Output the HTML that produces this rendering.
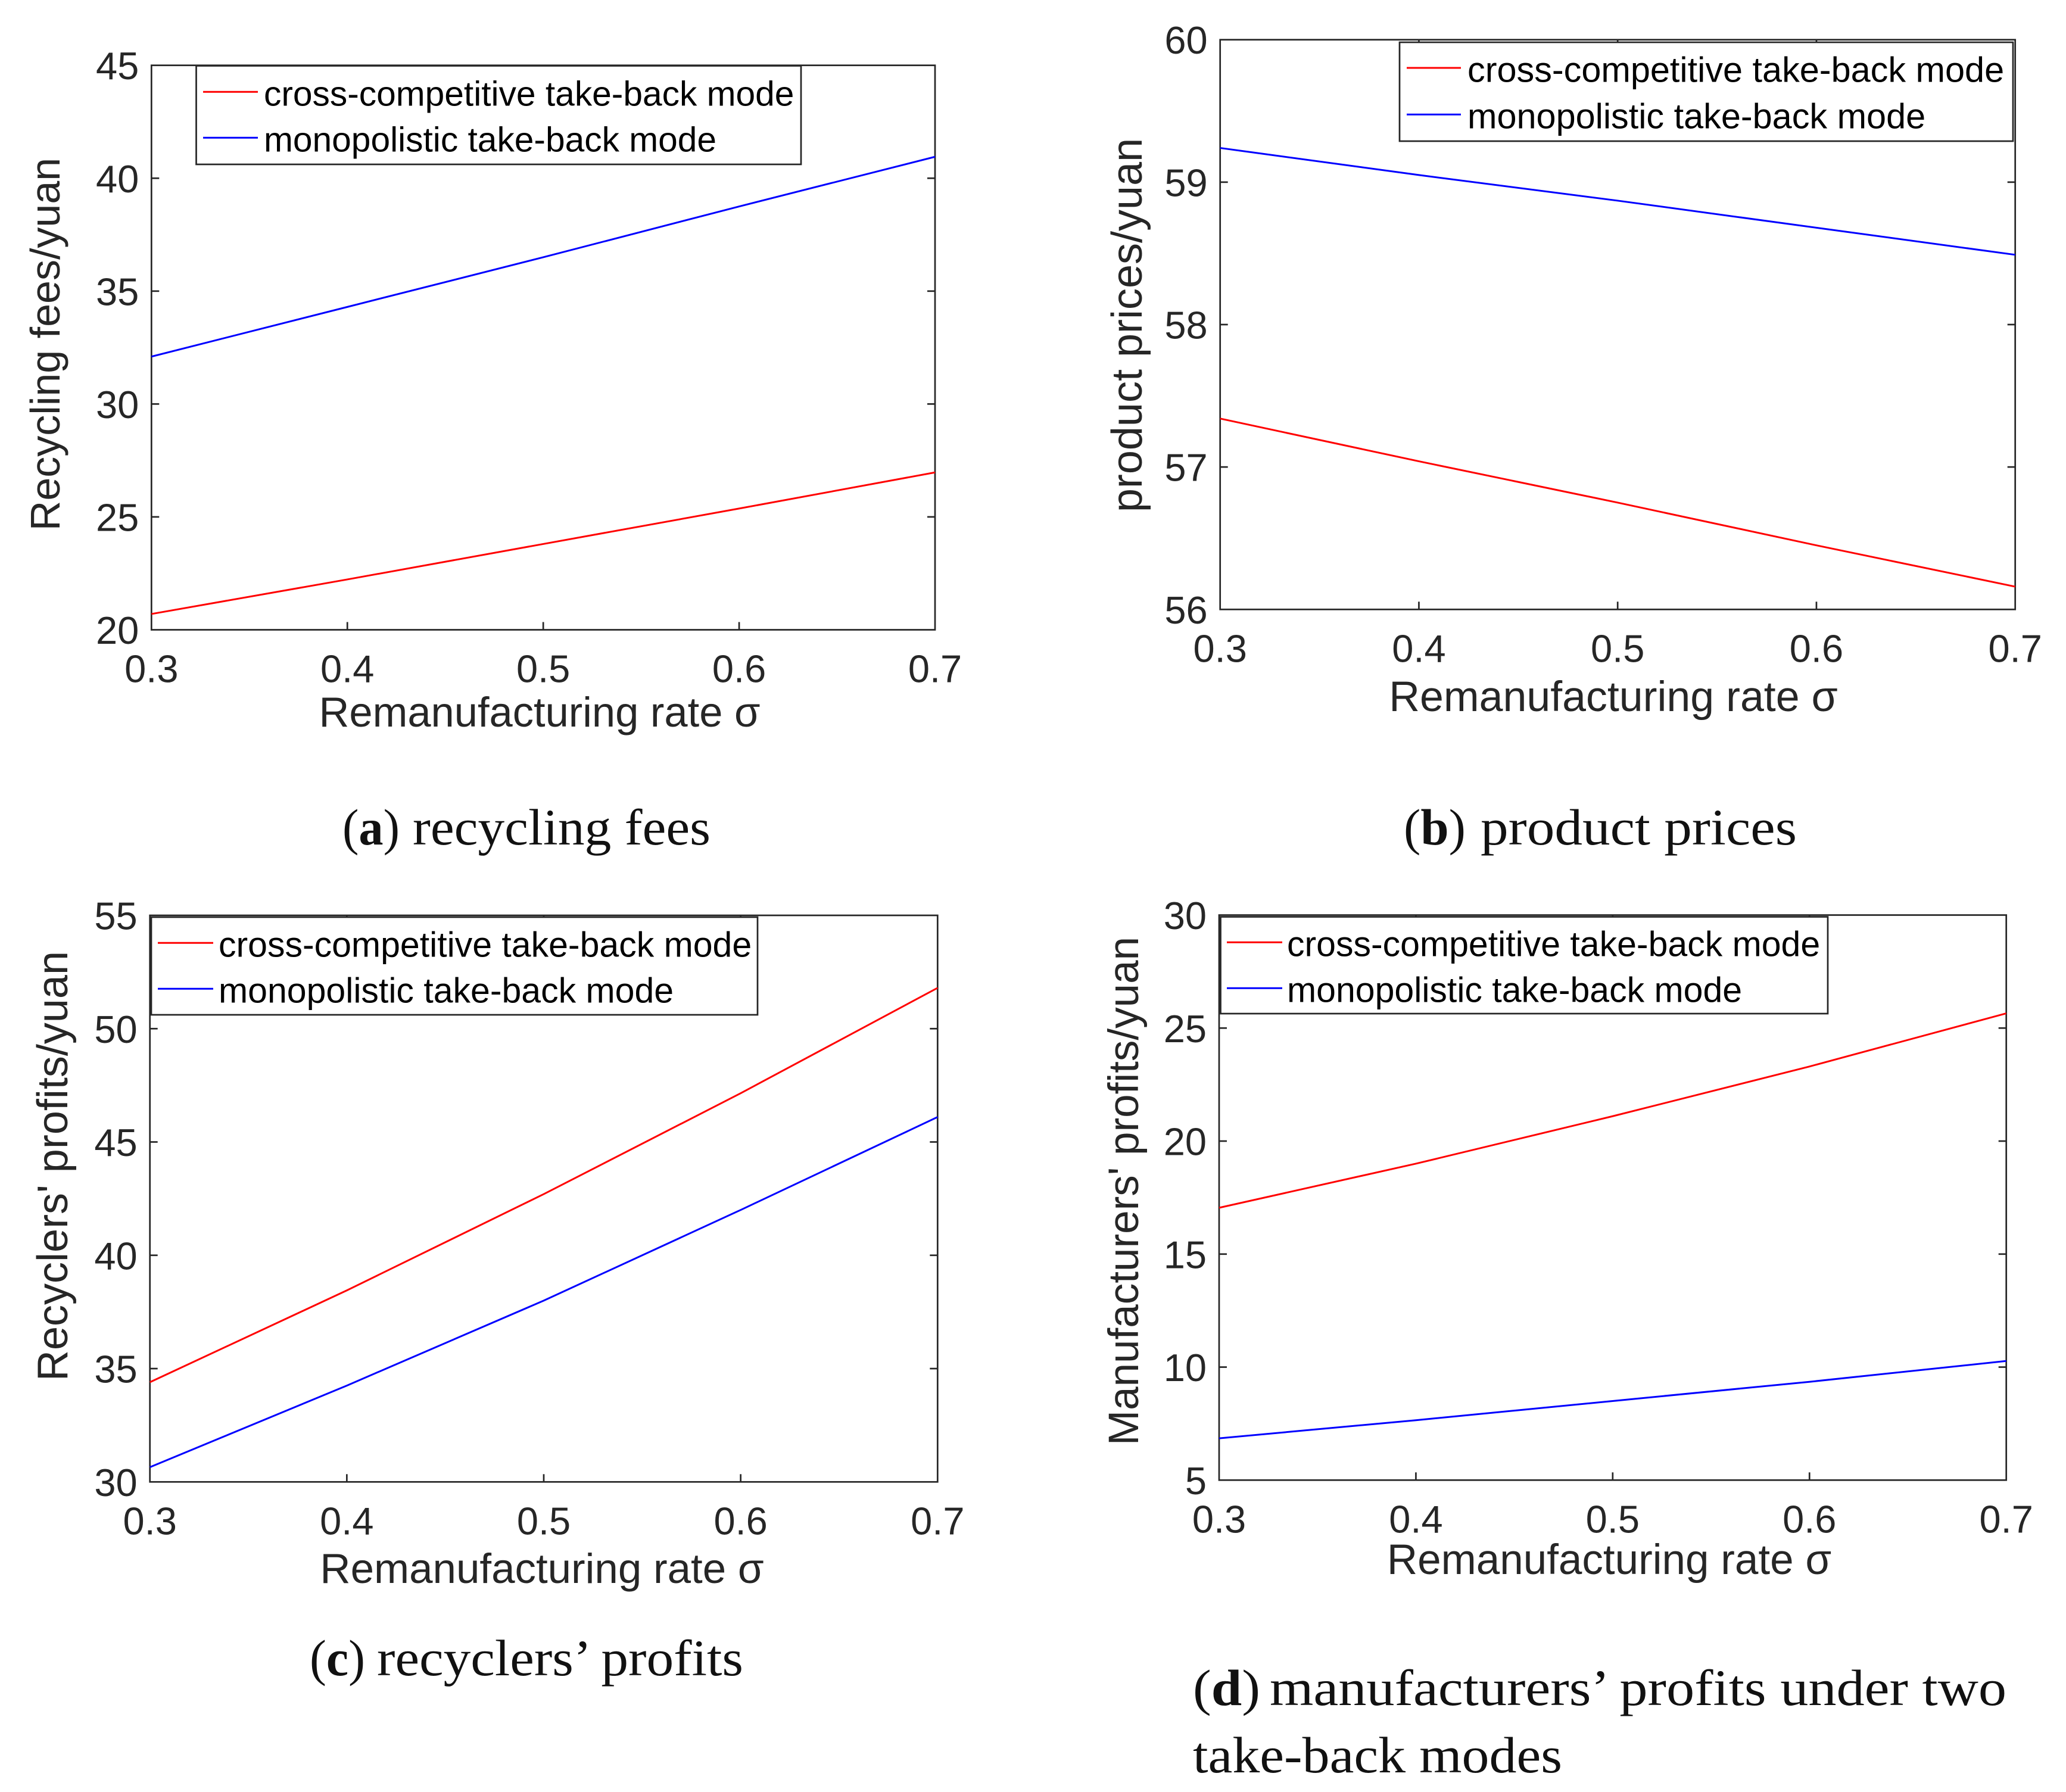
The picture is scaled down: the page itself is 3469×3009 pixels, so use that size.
<!DOCTYPE html>
<html lang="en">
<head>
<meta charset="utf-8">
<title>Take-back mode comparison charts</title>
<style>
html,body{margin:0;padding:0;background:#fff;}
svg{display:block;}
.sans{font-family:"Liberation Sans",Arial,sans-serif;}
.serif{font-family:"Liberation Serif","Times New Roman",serif;}
.tick{font-size:65px;fill:#262626;}
.title{font-size:70px;fill:#262626;}
.leg{font-size:58.7px;fill:#000;}
.cap{font-size:86px;fill:#111;}
.frame{fill:none;stroke:#262626;stroke-width:2.7;}
.legbox{fill:#fff;stroke:#262626;stroke-width:2.7;}
</style>
</head>
<body>
<svg id="figure" xmlns="http://www.w3.org/2000/svg" width="3469" height="3009" viewBox="0 0 3469 3009">
  <rect x="0" y="0" width="3469" height="3009" fill="#fff"/>

  <g id="panel-a" class="sans">
    <text class="title" text-anchor="middle" transform="translate(100 578) rotate(-90)">Recycling fees/yuan</text>
    <text class="title" text-anchor="middle" x="906" y="1220" style="font-size:70.5px">Remanufacturing rate σ</text>
  </g>
  <g id="panel-b" class="sans">
    <text class="title" text-anchor="middle" transform="translate(1917 546) rotate(-90)" style="font-size:72px">product prices/yuan</text>
    <text class="title" text-anchor="middle" x="2709" y="1194" style="font-size:71.7px">Remanufacturing rate σ</text>
  </g>
  <g id="panel-c" class="sans">
    <text class="title" text-anchor="middle" transform="translate(113 1958) rotate(-90)" style="font-size:72px">Recyclers' profits/yuan</text>
    <text class="title" text-anchor="middle" x="910" y="2658" style="font-size:70.9px">Remanufacturing rate σ</text>
  </g>
  <g id="panel-d" class="sans">
    <text class="title" text-anchor="middle" transform="translate(1911 2000) rotate(-90)" style="font-size:71px">Manufacturers' profits/yuan</text>
    <text class="title" text-anchor="middle" x="2702" y="2643" style="font-size:71px">Remanufacturing rate σ</text>
  </g>

  <g id="legends" class="sans">
    <g>
      <rect class="legbox" x="329.5" y="110.5" width="1015.5" height="165.5"/>
      <line x1="341" x2="433" y1="154.3" y2="154.3" stroke="#ff0000" stroke-width="3"/>
      <line x1="341" x2="433" y1="231.3" y2="231.3" stroke="#0000ff" stroke-width="3"/>
      <text class="leg" x="443" y="177.5">cross-competitive take-back mode</text>
      <text class="leg" x="443" y="254.5">monopolistic take-back mode</text>
    </g>
    <g>
      <rect class="legbox" x="2350" y="71" width="1030" height="166"/>
      <line x1="2362" x2="2453" y1="114" y2="114" stroke="#ff0000" stroke-width="3"/>
      <line x1="2362" x2="2453" y1="192.3" y2="192.3" stroke="#0000ff" stroke-width="3"/>
      <text class="leg" x="2464" y="137.5" style="font-size:59.4px">cross-competitive take-back mode</text>
      <text class="leg" x="2464" y="215.5" style="font-size:59.4px">monopolistic take-back mode</text>
    </g>
    <g>
      <rect class="legbox" x="254" y="1540" width="1018" height="164"/>
      <line x1="265" x2="358" y1="1583.3" y2="1583.3" stroke="#ff0000" stroke-width="3"/>
      <line x1="265" x2="358" y1="1660.3" y2="1660.3" stroke="#0000ff" stroke-width="3"/>
      <text class="leg" x="367" y="1606.5" style="font-size:59px">cross-competitive take-back mode</text>
      <text class="leg" x="367" y="1683.5" style="font-size:59px">monopolistic take-back mode</text>
    </g>
    <g>
      <rect class="legbox" x="2049.5" y="1539.5" width="1019.5" height="162.5"/>
      <line x1="2060" x2="2153" y1="1582.3" y2="1582.3" stroke="#ff0000" stroke-width="3"/>
      <line x1="2060" x2="2153" y1="1659.3" y2="1659.3" stroke="#0000ff" stroke-width="3"/>
      <text class="leg" x="2161" y="1605.5" style="font-size:59px">cross-competitive take-back mode</text>
      <text class="leg" x="2161" y="1682.5" style="font-size:59px">monopolistic take-back mode</text>
    </g>
  </g>

  <g id="captions" class="serif">
    <text class="cap" x="575" y="1418" textLength="96" lengthAdjust="spacingAndGlyphs">(<tspan font-weight="bold">a</tspan>)</text>
    <text class="cap" x="693" y="1418" textLength="500" lengthAdjust="spacingAndGlyphs">recycling fees</text>
    <text class="cap" x="2357" y="1418" textLength="104" lengthAdjust="spacingAndGlyphs">(<tspan font-weight="bold">b</tspan>)</text>
    <text class="cap" x="2486" y="1418" textLength="531" lengthAdjust="spacingAndGlyphs">product prices</text>
    <text class="cap" x="520" y="2813" textLength="93" lengthAdjust="spacingAndGlyphs">(<tspan font-weight="bold">c</tspan>)</text>
    <text class="cap" x="633" y="2813" textLength="615" lengthAdjust="spacingAndGlyphs">recyclers’ profits</text>
    <text class="cap" x="2003" y="2863" textLength="113" lengthAdjust="spacingAndGlyphs">(<tspan font-weight="bold">d</tspan>)</text>
    <text class="cap" x="2132" y="2863" textLength="1237" lengthAdjust="spacingAndGlyphs">manufacturers’ profits under two</text>
    <text class="cap" x="2003" y="2976" textLength="620" lengthAdjust="spacingAndGlyphs">take-back modes</text>
  </g>
</svg>
<script>
// Data
var sigmaValues = [0.3, 0.4, 0.5, 0.6, 0.7];
var xTickValues = [0.3, 0.4, 0.5, 0.6, 0.7];
var xTickLabels = ['0.3', '0.4', '0.5', '0.6', '0.7'];

var feesCross = [20.7, 22.23, 23.8, 25.37, 26.97];
var feesMono = [32.1, 34.3, 36.5, 38.75, 40.95];
var feesTicks = [20, 25, 30, 35, 40, 45];

var pricesCross = [57.34, 57.04, 56.75, 56.45, 56.16];
var pricesMono = [59.24, 59.05, 58.87, 58.68, 58.49];
var pricesTicks = [56, 57, 58, 59, 60];

var recyclersCross = [34.4, 38.45, 42.7, 47.15, 51.8];
var recyclersMono = [30.65, 34.25, 38.0, 42.0, 46.1];
var recyclersTicks = [30, 35, 40, 45, 50, 55];

var manufacturersCross = [17.05, 19.0, 21.1, 23.3, 25.65];
var manufacturersMono = [6.85, 7.65, 8.5, 9.35, 10.27];
var manufacturersTicks = [5, 10, 15, 20, 25, 30];

var NS = 'http://www.w3.org/2000/svg';

function makeX(box) {
  var lo = xTickValues[0], hi = xTickValues[xTickValues.length - 1];
  return function (v) { return box.left + (v - lo) / (hi - lo) * (box.right - box.left); };
}
function makeY(box, ticks) {
  var lo = ticks[0], hi = ticks[ticks.length - 1];
  return function (v) { return box.bottom - (v - lo) / (hi - lo) * (box.bottom - box.top); };
}

function drawPanel(id, box, ticks, cross, mono) {
  var host = document.getElementById('panel-' + id);
  var x = makeX(box), y = makeY(box, ticks);
  var tickLen = 13;

  var frame = document.createElementNS(NS, 'rect');
  
  
  frame.setAttribute('class', 'frame');
  frame.setAttribute('x', box.left);
  frame.setAttribute('y', box.top);
  frame.setAttribute('width', box.right - box.left);
  frame.setAttribute('height', box.bottom - box.top);
  host.appendChild(frame);

  function tickLine(x1, y1, x2, y2) {
    var t = document.createElementNS(NS, 'line');
    
    
    t.setAttribute('x1', x1);
    t.setAttribute('y1', y1);
    t.setAttribute('x2', x2);
    t.setAttribute('y2', y2);
    t.setAttribute('stroke', '#262626');
    t.setAttribute('stroke-width', '2.7');
    host.appendChild(t);
  }

  xTickValues.forEach(function (v, i) {
    var px = x(v);
    if (i > 0 && i < xTickValues.length - 1) {
      tickLine(px, box.bottom, px, box.bottom - tickLen);
      tickLine(px, box.top, px, box.top + tickLen);
    }
    var label = document.createElementNS(NS, 'text');
    
    
    label.setAttribute('class', 'tick');
    label.setAttribute('text-anchor', 'middle');
    label.setAttribute('x', px);
    label.setAttribute('y', box.bottom + 88);
    label.textContent = xTickLabels[i];
    host.appendChild(label);
  });

  ticks.forEach(function (v, i) {
    var py = y(v);
    if (i > 0 && i < ticks.length - 1) {
      tickLine(box.left, py, box.left + tickLen, py);
      tickLine(box.right, py, box.right - tickLen, py);
    }
    var label = document.createElementNS(NS, 'text');
    
    
    label.setAttribute('class', 'tick');
    label.setAttribute('text-anchor', 'end');
    label.setAttribute('x', box.left - 21);
    label.setAttribute('y', py + 23.5);
    label.textContent = String(v);
    host.appendChild(label);
  });

  function seriesPath(values, colour, name) {
    var d = values.map(function (v, i) {
      return (i ? 'L' : 'M') + x(sigmaValues[i]).toFixed(2) + ' ' + y(v).toFixed(2);
    }).join(' ');
    var p = document.createElementNS(NS, 'path');
    
    
    p.setAttribute('d', d);
    p.setAttribute('fill', 'none');
    p.setAttribute('stroke', colour);
    p.setAttribute('stroke-width', '3');
    host.appendChild(p);
  }
  seriesPath(cross, '#ff0000', 'series-cross-competitive');
  seriesPath(mono, '#0000ff', 'series-monopolistic');
}

drawPanel('a', {left: 254.3, right: 1570, top: 109.7, bottom: 1057.5}, feesTicks, feesCross, feesMono);
drawPanel('b', {left: 2048.7, right: 3383.7, top: 66.7, bottom: 1023.3}, pricesTicks, pricesCross, pricesMono);
drawPanel('c', {left: 251.7, right: 1574.3, top: 1537, bottom: 2488.3}, recyclersTicks, recyclersCross, recyclersMono);
drawPanel('d', {left: 2047, right: 3368.7, top: 1536.5, bottom: 2485.3}, manufacturersTicks, manufacturersCross, manufacturersMono);

// Legends sit above the plot frames
var fig = document.getElementById('figure');
fig.appendChild(document.getElementById('legends'));
</script>
</body>
</html>
